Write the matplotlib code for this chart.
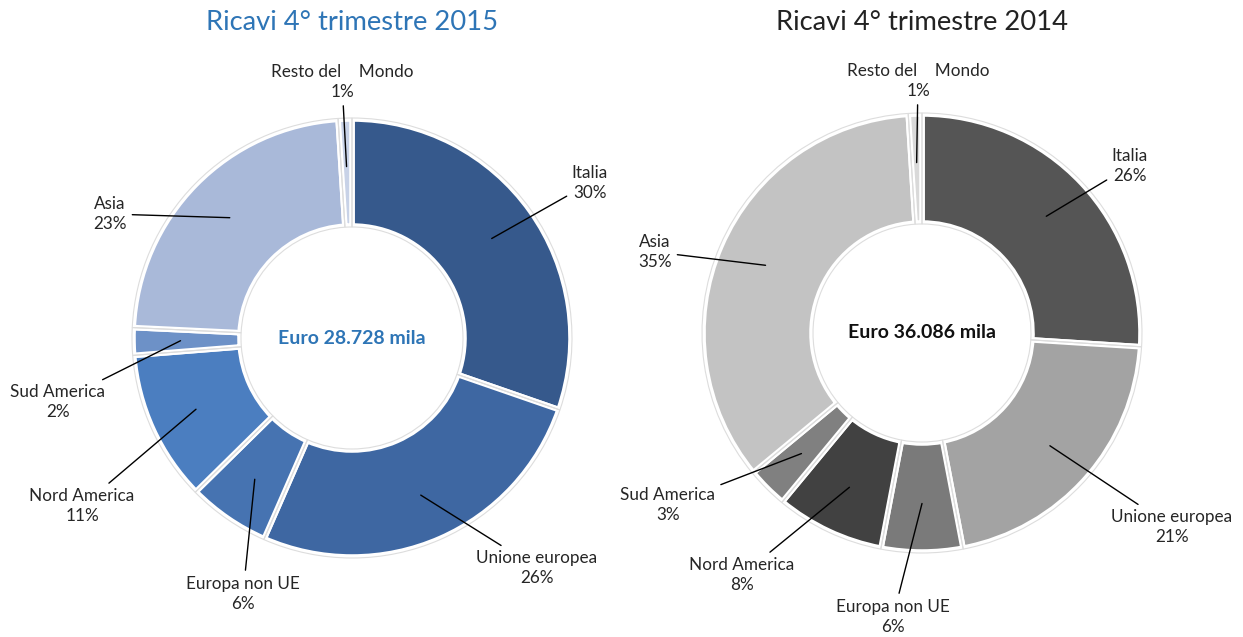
import numpy as np
import matplotlib
matplotlib.use("Agg")
import matplotlib.pyplot as plt

plt.rcParams['font.family'] = ['Lato', 'DejaVu Sans']

# dati
regions = ["Italia", "Unione europea", "Europa non UE", "Nord America",
           "Sud America", "Asia", "Resto del    Mondo"]
share_2015 = [30, 26, 6, 11, 2, 23, 1]
share_2014 = [26, 21, 6, 8, 3, 35, 1]
total_2015 = "Euro 28.728 mila"
total_2014 = "Euro 36.086 mila"
title_2015 = "Ricavi 4° trimestre 2015"
title_2014 = "Ricavi 4° trimestre 2014"

colors_2015 = ["#36598c", "#3e67a2", "#4673b1", "#4b7ec0",
               "#6d91c7", "#a9b9d9", "#c8d2e7"]
colors_2014 = ["#555555", "#a3a3a3", "#7a7a7a", "#414141",
               "#808080", "#c3c3c3", "#d9d9d9"]

# posizioni dei testi (pixel, y dall'alto)
label_pos_2015 = [(590, 183), (537, 568), (243, 594), (82, 506),
                  (58, 402), (110, 214), (342, 82)]
label_pos_2014 = [(1130, 166), (1172, 527), (893, 617), (742, 575),
                  (668, 505), (655, 252), (918, 81)]

W, H = 1243, 637
fig = plt.figure(figsize=(W / 100, H / 100), dpi=100)
ax = fig.add_axes([0, 0, 1, 1])
ax.set_xlim(0, W)
ax.set_ylim(0, H)
ax.set_aspect('equal')
ax.axis('off')


def donut(center, r_out, r_in, values, colors, label_pos, title, title_color, total, total_color):
    cx, cy = center[0], H - center[1]
    ax.pie(values, colors=colors, radius=r_out, center=(cx, cy),
           startangle=90, counterclock=False, frame=True,
           wedgeprops=dict(width=r_out - r_in, edgecolor='white', linewidth=4))
    # contorno sottile grigio come nell'originale
    ax.pie(values, colors=['none'] * len(values), radius=r_out + 1, center=(cx, cy),
           startangle=90, counterclock=False, frame=True,
           wedgeprops=dict(width=r_out - r_in + 2, edgecolor='#dddddd',
                           linewidth=0.8, fill=False))
    tot = float(sum(values))
    start = 90.0
    r_mid = 0.5 * (r_out + r_in) + 6
    for name, v, (tx, ty) in zip(regions, values, label_pos):
        ang = np.deg2rad(start - v / tot * 180.0)
        start -= v / tot * 360.0
        px, py = cx + r_mid * np.cos(ang), cy + r_mid * np.sin(ang)
        ax.annotate(f"{name}\n{v}%", xy=(px, py), xytext=(tx, H - ty),
                    ha='center', va='center', fontsize=12.3, color='#262626',
                    linespacing=1.35,
                    arrowprops=dict(arrowstyle='-', color='black', lw=1,
                                    shrinkA=2, shrinkB=0))
    ax.text(cx, cy, total, ha='center', va='center', fontsize=14,
            fontweight='bold', color=total_color)
    ax.text(cx, H - 22, title, ha='center', va='center', fontsize=19.7,
            color=title_color)


donut((352, 338), 219, 112, share_2015, colors_2015, label_pos_2015,
      title_2015, '#2e75b6', total_2015, '#2e75b6')
donut((922, 333), 219, 110, share_2014, colors_2014, label_pos_2014,
      title_2014, '#222222', total_2014, '#111111')

ax.set_xlim(0, W)
ax.set_ylim(0, H)
ax.axis('off')
fig.savefig("out.png", dpi=100)
